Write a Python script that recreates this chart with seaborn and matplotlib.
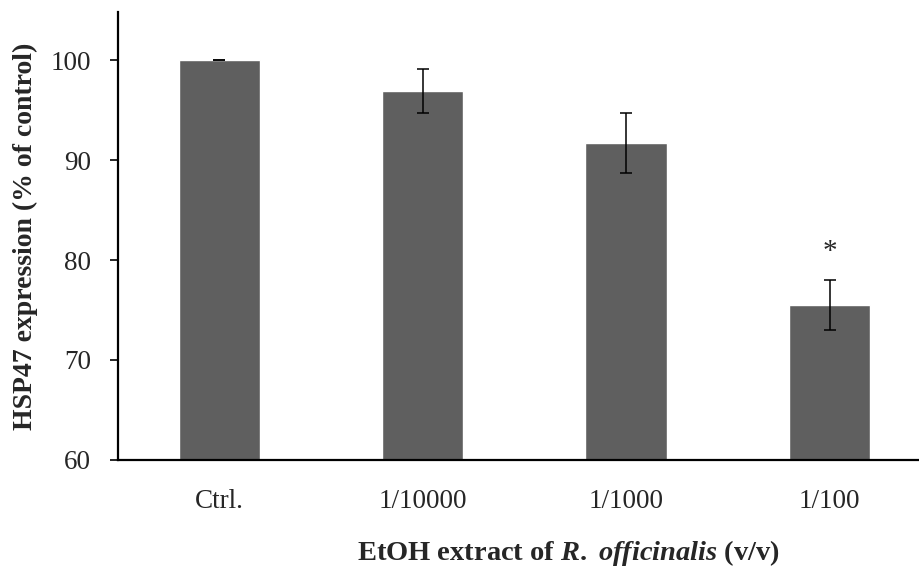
import numpy as np
import pandas as pd
import matplotlib.pyplot as plt
import seaborn as sns

sns.set_style("white")
plt.rcParams['font.family'] = ['Liberation Serif', 'DejaVu Serif']
plt.rcParams['mathtext.fontset'] = 'custom'
plt.rcParams['mathtext.it'] = 'Liberation Serif:bold:italic'
plt.rcParams['mathtext.rm'] = 'Liberation Serif:bold'

# Data
groups = ["Ctrl.", "1/10000", "1/1000", "1/100"]
expression = [100.0, 96.9, 91.7, 75.5]
errors = [0.0, 2.2, 3.0, 2.5]
significant = [False, False, False, True]

df = pd.DataFrame({"group": groups, "expression": expression})

fig = plt.figure(figsize=(9.19, 5.8), dpi=100)
ax = fig.add_axes([0.128, 0.207, 0.872, 0.772])

sns.barplot(data=df, x="group", y="expression", color="#5f5f5f",
            saturation=1, width=0.4, errorbar=None, ax=ax)
xpos = np.arange(len(groups))
ax.errorbar(xpos, expression, yerr=errors, fmt="none", ecolor="black",
            elinewidth=1.1, capsize=4.5, capthick=1.1)
for x, y, e, s in zip(xpos, expression, errors, significant):
    if s:
        ax.text(x, y + e + 1.5, "*", ha="center", va="bottom", fontsize=21)

ax.set_ylim(60, 104.8)
ax.set_xlim(-0.5, 3.44)
ax.set_yticks([60, 70, 80, 90, 100])
sns.despine(ax=ax)
for side in ["left", "bottom"]:
    ax.spines[side].set_linewidth(1.6)
    ax.spines[side].set_color("black")
ax.tick_params(axis="y", direction="out", length=6, width=1.4, labelsize=19.5, pad=13, left=True)
ax.tick_params(axis="x", length=0, labelsize=19.5, pad=21)

ax.set_ylabel("HSP47 expression (% of control)", fontsize=20, fontweight="bold", labelpad=9)
ax.set_xlabel(r"EtOH extract of $\mathit{R.}$ $\mathit{officinalis}$ (v/v)", fontsize=20.5,
              fontweight="bold")
ax.xaxis.set_label_coords(0.563, -0.208)
ax.xaxis.label.set_va("center")

fig.savefig("out.png", dpi=100)
